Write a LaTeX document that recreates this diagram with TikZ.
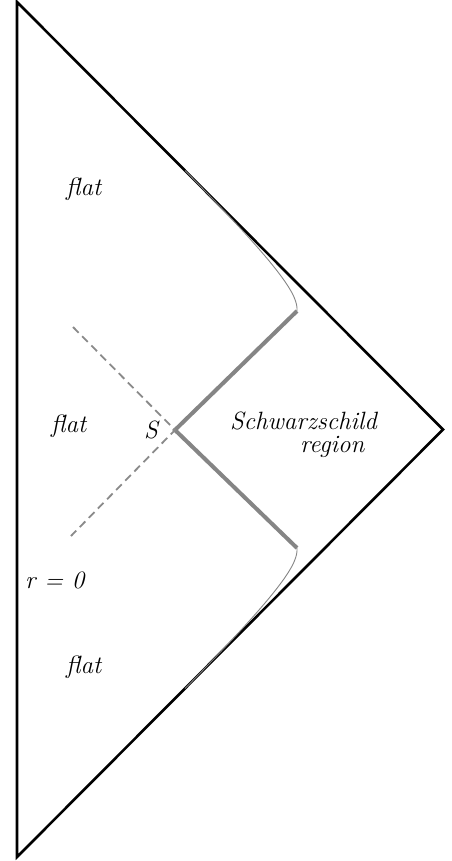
\documentclass[tikz,border=0pt]{standalone}
\usepackage{fontspec}
\usetikzlibrary{calc}
\definecolor{horizongray}{HTML}{858585}
\definecolor{dashgray}{HTML}{8A8A8A}

\begin{document}
\begin{tikzpicture}[x=1pt, y=-1pt,
  edge/.style={line width=2.6pt, line join=miter, color=black},
  horizon/.style={line width=4pt, color=horizongray},
  shell/.style={line width=0.9pt, color=horizongray},
  nullray/.style={line width=1.8pt, color=dashgray, dash pattern=on 8pt off 5pt},
  lbl/.style={font=\fontsize{25}{23}\selectfont\itshape, inner sep=0pt, anchor=base west}]

  \useasboundingbox (0,0) rectangle (451,861);

  % corners of the diagram
  \coordinate (top) at (17,2);
  \coordinate (apex) at (443,429.5);
  \coordinate (bot) at (17,857);

  % collapsing shell
  \coordinate (S) at (175,430);
  \coordinate (hup) at (297,311);
  \coordinate (hdn) at (297,548);
  \coordinate (mup) at (185,170.5);
  \coordinate (mdn) at (185,688.5);
  \coordinate (dup) at (73,327);
  \coordinate (ddn) at (71,536);

  \draw[edge] (top) -- (apex) -- (bot) -- cycle;
  \draw[horizon] (hup) -- (S) -- (hdn);
  \draw[shell] (hup) .. controls (298,296) and (285,272) .. (mup);
  \draw[shell] (hdn) .. controls (298,563) and (285,587) .. (mdn);
  \draw[nullray] (dup) -- (S) -- (ddn);

  \node[lbl] (flattop) at (66,195) {flat};
  \node[lbl] (flatmid) at (51,432) {flat};
  \node[lbl] (flatbot) at (66,673) {flat};
  \node[lbl] (rzero) at (25,588) {r = 0};
  \node[lbl] (shell) at (144,438) {S};
  \node[lbl, align=left] (schw) at (230,452) {Schwarzschild\\\hspace{70pt}region};
\end{tikzpicture}
\end{document}
